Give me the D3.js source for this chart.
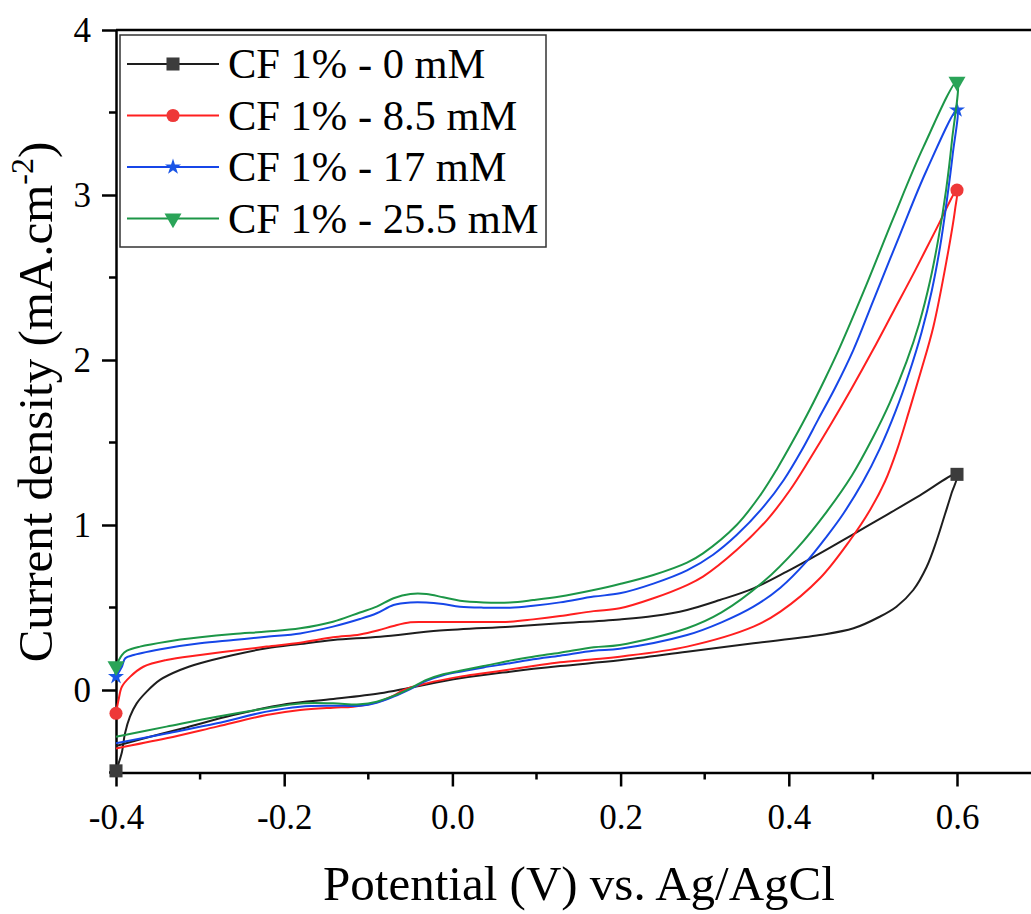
<!DOCTYPE html>
<html>
<head>
<meta charset="utf-8">
<script src="https://cdn.jsdelivr.net/npm/d3@7"></script>
<style>
  body { margin: 0; background: #fff; }
  svg { display: block; font-family: "Liberation Serif", "Times New Roman", serif; }
</style>
</head>
<body>
<div id="chart"></div>
<script>
// Cyclic voltammograms, [potential V, current density mA/cm2]
// "upper" = branch starting at -0.4 V and running to 0.6 V, "lower" = return branch (listed with rising E)
const cf0Upper = [[-0.4,-0.49],[-0.3933,-0.384],[-0.3893,-0.263],[-0.3834,-0.162],[-0.3754,-0.081],[-0.3635,-0.01],
  [-0.3477,0.061],[-0.3239,0.121],[-0.30,0.162],[-0.2605,0.212],[-0.2208,0.253],[-0.1812,0.279],[-0.1416,0.303],
  [-0.086,0.323],[-0.015,0.36],[0.0685,0.384],[0.128,0.404],[0.199,0.428],[0.239,0.448],[0.279,0.485],[0.318,0.545],
  [0.358,0.616],[0.3975,0.717],[0.437,0.828],[0.477,0.945],[0.516,1.06],[0.556,1.18],[0.6,1.307]];
const cf0Lower = [[-0.4,-0.339],[-0.3595,-0.283],[-0.32,-0.232],[-0.2605,-0.152],[-0.197,-0.085],[-0.1416,-0.055],
  [-0.086,-0.02],[-0.0504,0.014],[0.009,0.071],[0.0685,0.111],[0.128,0.145],[0.199,0.18],[0.279,0.232],[0.358,0.283],
  [0.437,0.333],[0.477,0.374],[0.508,0.444],[0.528,0.505],[0.548,0.606],[0.564,0.747],[0.576,0.909],[0.5857,1.065],
  [0.5937,1.195]];

const cf85Upper = [[-0.4,-0.141],[-0.397,-0.061],[-0.393,0.02],[-0.383,0.081],[-0.3675,0.141],[-0.34,0.182],[-0.30,0.212],
  [-0.2605,0.238],[-0.221,0.263],[-0.181,0.287],[-0.142,0.319],[-0.11,0.337],[-0.088,0.362],[-0.07,0.388],[-0.05,0.41],
  [-0.031,0.412],[0.009,0.412],[0.0685,0.414],[0.096,0.428],[0.128,0.448],[0.168,0.478],[0.199,0.495],[0.239,0.556],
  [0.279,0.636],[0.298,0.687],[0.338,0.848],[0.374,1.03],[0.4015,1.212],[0.425,1.40],[0.45,1.61],[0.475,1.83],
  [0.5,2.06],[0.525,2.30],[0.55,2.54],[0.575,2.79],[0.6,3.03]];
const cf85Lower = [[-0.4,-0.354],[-0.34,-0.293],[-0.28,-0.222],[-0.221,-0.152],[-0.181,-0.121],[-0.142,-0.107],
  [-0.118,-0.101],[-0.09,-0.075],[-0.07,-0.035],[-0.058,0.0],[-0.031,0.04],[0.009,0.081],[0.037,0.101],[0.0685,0.125],
  [0.096,0.145],[0.128,0.168],[0.168,0.186],[0.199,0.202],[0.279,0.263],[0.358,0.384],[0.39,0.475],[0.437,0.677],
  [0.473,0.909],[0.4966,1.091],[0.5145,1.265],[0.529,1.46],[0.543,1.69],[0.557,1.93],[0.5719,2.202],[0.5877,2.606],
  [0.5976,2.909]];

const cf17Upper = [[-0.4,0.081],[-0.393,0.141],[-0.389,0.192],[-0.379,0.212],[-0.34,0.253],[-0.30,0.283],[-0.2605,0.303],
  [-0.221,0.323],[-0.181,0.343],[-0.142,0.384],[-0.11,0.43],[-0.09,0.465],[-0.07,0.515],[-0.05,0.531],[-0.031,0.531],
  [-0.011,0.521],[0.009,0.505],[0.037,0.499],[0.0685,0.499],[0.096,0.511],[0.128,0.531],[0.168,0.566],[0.199,0.586],
  [0.239,0.645],[0.279,0.725],[0.31,0.82],[0.338,0.939],[0.37,1.111],[0.394,1.273],[0.415,1.45],[0.435,1.64],
  [0.455,1.83],[0.4767,2.06],[0.5005,2.36],[0.5322,2.76],[0.5639,3.15],[0.6,3.515]];
const cf17Lower = [[-0.4,-0.323],[-0.34,-0.263],[-0.28,-0.202],[-0.221,-0.131],[-0.181,-0.101],[-0.142,-0.095],
  [-0.11,-0.095],[-0.09,-0.077],[-0.07,-0.04],[-0.05,0.006],[-0.031,0.055],[-0.011,0.089],[0.009,0.111],[0.037,0.137],
  [0.0685,0.162],[0.096,0.186],[0.128,0.208],[0.168,0.238],[0.199,0.25],[0.279,0.333],[0.32,0.41],[0.358,0.505],
  [0.39,0.62],[0.421,0.778],[0.445,0.93],[0.465,1.07],[0.488,1.26],[0.508,1.46],[0.527,1.69],[0.543,1.92],[0.558,2.17],
  [0.57,2.42],[0.58,2.69],[0.588,2.97],[0.595,3.25]];

const cf255Upper = [[-0.4,0.145],[-0.393,0.212],[-0.387,0.238],[-0.3715,0.263],[-0.34,0.293],[-0.30,0.319],
  [-0.2605,0.339],[-0.221,0.354],[-0.181,0.374],[-0.142,0.414],[-0.11,0.47],[-0.09,0.505],[-0.07,0.556],[-0.05,0.582],
  [-0.031,0.582],[-0.011,0.562],[0.009,0.541],[0.037,0.531],[0.0685,0.531],[0.096,0.545],[0.128,0.566],[0.168,0.606],
  [0.199,0.642],[0.239,0.697],[0.279,0.772],[0.298,0.828],[0.338,1.0],[0.366,1.18],[0.386,1.34],[0.405,1.51],
  [0.425,1.70],[0.443,1.885],[0.4609,2.08],[0.4926,2.46],[0.5243,2.86],[0.56,3.29],[0.6,3.687]];
const cf255Lower = [[-0.4,-0.283],[-0.34,-0.222],[-0.28,-0.162],[-0.221,-0.111],[-0.181,-0.082],[-0.142,-0.081],
  [-0.11,-0.087],[-0.09,-0.071],[-0.07,-0.036],[-0.05,0.01],[-0.031,0.061],[-0.011,0.095],[0.009,0.117],[0.037,0.145],
  [0.0685,0.178],[0.096,0.202],[0.128,0.226],[0.168,0.259],[0.199,0.273],[0.279,0.374],[0.32,0.47],[0.37,0.657],
  [0.41,0.86],[0.445,1.08],[0.475,1.30],[0.5,1.53],[0.52,1.74],[0.54,1.99],[0.555,2.22],[0.568,2.48],[0.578,2.74],
  [0.587,3.03],[0.594,3.33]];

const seriesNames = ["CF 1% - 0 mM", "CF 1% - 8.5 mM", "CF 1% - 17 mM", "CF 1% - 25.5 mM"];
const xMajorTicks = [-0.4, -0.2, 0.0, 0.2, 0.4, 0.6];
const xMinorTicks = [-0.3, -0.1, 0.1, 0.3, 0.5];
const yMajorTicks = [0, 1, 2, 3, 4];
const yMinorTicks = [-0.5, 0.5, 1.5, 2.5, 3.5];

const FONT = '"Liberation Serif", "Times New Roman", serif';

// styles per series (line colour, marker colour, symbol)
const styles = [
  { line: "#1e1e1e", mark: "#3c3c3c", symbol: d3.symbolSquare,   size: 170, rot: 0 },
  { line: "#ff1f1f", mark: "#ee3838", symbol: d3.symbolCircle,   size: 135, rot: 0 },
  { line: "#1646e8", mark: "#1a55e6", symbol: d3.symbolStar,     size: 80,  rot: 0 },
  { line: "#1c9647", mark: "#2aa458", symbol: d3.symbolTriangle, size: 125, rot: 180 }
];

const series = [
  [cf0Upper, cf0Lower], [cf85Upper, cf85Lower], [cf17Upper, cf17Lower], [cf255Upper, cf255Lower]
].map(([up, low], i) => ({
  name: seriesNames[i],
  points: up.concat(low.slice().reverse()),
  markers: [up[0], up[up.length - 1]],
  ...styles[i]
}));

const width = 1031, height = 914;
const plot = { left: 116, top: 30, bottom: 772.5 };

const svg = d3.select("#chart").append("svg")
  .attr("width", width)
  .attr("height", height)
  .attr("font-family", FONT);

const x = d3.scaleLinear().domain([-0.4, 0.7]).range([plot.left, plot.left + 841 * 1.1]);
const y = d3.scaleLinear().domain([-0.5, 4]).range([plot.bottom, plot.top]);

// frame (top line)
svg.append("line")
  .attr("x1", plot.left).attr("x2", x(0.7))
  .attr("y1", plot.top).attr("y2", plot.top)
  .attr("stroke", "#000").attr("stroke-width", 2.5);

// X axis
const xAxis = svg.append("g")
  .attr("transform", `translate(0,${plot.bottom})`)
  .call(d3.axisBottom(x).tickValues(xMajorTicks).tickSize(14).tickSizeOuter(0).tickPadding(18)
    .tickFormat(d => d.toFixed(1)));
xAxis.attr("font-family", FONT);
xAxis.selectAll(".tick line").attr("stroke-width", 2.5);
xAxis.select(".domain").attr("stroke-width", 2.5);
xAxis.selectAll(".tick text").attr("font-size", 35);
xAxis.selectAll(".minor").data(xMinorTicks).join("line")
  .attr("class", "minor")
  .attr("x1", d => x(d)).attr("x2", d => x(d))
  .attr("y1", 0).attr("y2", 7)
  .attr("stroke", "#000").attr("stroke-width", 2.5);

// Y axis
const yAxis = svg.append("g")
  .attr("transform", `translate(${plot.left},0)`)
  .call(d3.axisLeft(y).tickValues(yMajorTicks).tickSize(14).tickSizeOuter(0).tickPadding(11)
    .tickFormat(d3.format("d")));
yAxis.attr("font-family", FONT);
yAxis.selectAll(".tick line").attr("stroke-width", 2.5);
yAxis.select(".domain").attr("stroke-width", 2.5);
yAxis.selectAll(".tick text").attr("font-size", 35);
yAxis.selectAll(".minor").data(yMinorTicks).join("line")
  .attr("class", "minor")
  .attr("x1", 0).attr("x2", -7)
  .attr("y1", d => y(d)).attr("y2", d => y(d))
  .attr("stroke", "#000").attr("stroke-width", 2.5);

// Axis titles
svg.append("text")
  .attr("x", 579).attr("y", 900)
  .attr("text-anchor", "middle")
  .attr("font-size", 49)
  .text("Potential (V) vs. Ag/AgCl");

const yTitle = svg.append("text")
  .attr("transform", "translate(52,402) rotate(-90)")
  .attr("text-anchor", "middle")
  .attr("font-size", 49);
yTitle.append("tspan").text("Current density (mA.cm");
yTitle.append("tspan").attr("dy", -19).attr("font-size", 32).text("-2");
yTitle.append("tspan").attr("dy", 19).text(")");

// Curves
const line = d3.line()
  .x(d => x(d[0]))
  .y(d => y(d[1]))
  .curve(d3.curveCatmullRom.alpha(0.5));

series.forEach(s => {
  svg.append("path")
    .datum(s.points)
    .attr("fill", "none")
    .attr("stroke", s.line)
    .attr("stroke-width", 2)
    .attr("stroke-linejoin", "round")
    .attr("d", line);

  svg.selectAll(null)
    .data(s.markers)
    .join("path")
      .attr("transform", d => `translate(${x(d[0])},${y(d[1])}) rotate(${s.rot})`)
      .attr("d", d3.symbol(s.symbol, s.size))
      .attr("fill", s.mark);
});

// Legend
const legend = svg.append("g").attr("transform", "translate(120,35)");
legend.append("rect")
  .attr("width", 426).attr("height", 212)
  .attr("fill", "#fff")
  .attr("stroke", "#333")
  .attr("stroke-width", 1.5);

series.forEach((s, i) => {
  const cy = 29 + i * 51.5;
  legend.append("line")
    .attr("x1", 7).attr("x2", 99)
    .attr("y1", cy).attr("y2", cy)
    .attr("stroke", s.line).attr("stroke-width", 2);
  legend.append("path")
    .attr("transform", `translate(53,${cy}) rotate(${s.rot})`)
    .attr("d", d3.symbol(s.symbol, s.size))
    .attr("fill", s.mark);
  legend.append("text")
    .attr("x", 108).attr("y", cy + 14)
    .attr("font-size", 42.5)
    .text(s.name);
});
</script>
</body>
</html>
